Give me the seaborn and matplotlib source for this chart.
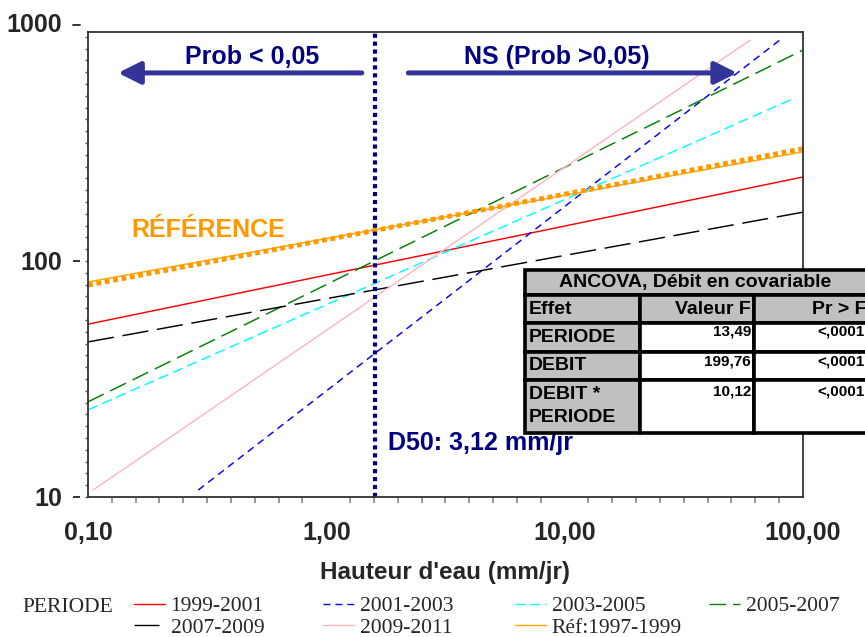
import numpy as np
import pandas as pd
import matplotlib
matplotlib.use("Agg")
import matplotlib.pyplot as plt
import seaborn as sns
from matplotlib.lines import Line2D
from matplotlib.patches import Rectangle
from matplotlib.ticker import FixedLocator, NullFormatter, FixedFormatter

# ---------------- data ----------------
periods = ["1999-2001", "2001-2003", "2003-2005", "2005-2007",
           "2007-2009", "2009-2011", "Réf:1997-1999"]
x_start = [0.10, 0.29, 0.10, 0.10, 0.10, 0.105, 0.10]
x_end = [100.0, 82.0, 92.5, 100.0, 100.0, 60.0, 100.0]
y_start = [54.0, 10.7, 23.4, 25.3, 45.4, 10.7, 81.5]
y_end = [227.0, 881.0, 491.0, 783.0, 161.0, 863.0, 290.0]

ref_x = [0.10, 100.0]
ref_y = [79.0, 299.0]
d50_x = 1.6

x_ticks = [0.1, 1, 10, 100]
x_ticklabels = ["0,10", "1,00", "10,00", "100,00"]
y_ticks = [10, 100]
y_ticklabels = ["10", "100"]
y_top_label = "1000"

table_title = "ANCOVA, Débit en covariable"
table_cols = ["Effet", "Valeur F", "Pr > F"]
table_effects = ["PERIODE", "DEBIT", "DEBIT *\nPERIODE"]
table_f = ["13,49", "199,76", "10,12"]
table_p = ["<,0001", "<,0001", "<,0001"]

# ---------------- styles ----------------
colors = {"1999-2001": "#FF0000", "2001-2003": "#0000FF", "2003-2005": "#00FFFF",
          "2005-2007": "#008000", "2007-2009": "#000000", "2009-2011": "#FFB6C1",
          "Réf:1997-1999": "#FFA500"}
dash_map = {"1999-2001": "", "2001-2003": (5, 3.6), "2003-2005": (7, 3.6),
            "2005-2007": (12, 5), "2007-2009": (18, 6), "2009-2011": "",
            "Réf:1997-1999": ""}
NAVY = "#000080"
ARROW = "#333399"
ORANGE = "#FF9900"

sns.set_style("white")
plt.rcParams["font.family"] = ["Liberation Sans", "DejaVu Sans"]

W, H = 865, 637
fig = plt.figure(figsize=(W / 100, H / 100), dpi=100)
L, R, T, B = 88, 803, 32, 497
ax = fig.add_axes([L / W, 1 - B / H, (R - L) / W, (B - T) / H])

rows = []
for p, xs, xe, ys, ye in zip(periods, x_start, x_end, y_start, y_end):
    rows.append({"period": p, "x": xs, "y": ys})
    rows.append({"period": p, "x": xe, "y": ye})
df = pd.DataFrame(rows)

sns.lineplot(data=df, x="x", y="y", hue="period", style="period",
             hue_order=periods, style_order=periods, palette=colors,
             dashes=dash_map, legend=False, estimator=None, sort=False,
             linewidth=1.05, ax=ax)

ref_df = pd.DataFrame({"x": ref_x, "y": ref_y})
sns.lineplot(data=ref_df, x="x", y="y", color=ORANGE, linewidth=3.5,
             dashes=False, ax=ax, estimator=None, sort=False)
ax.lines[-1].set_dashes((1, 0.75))
ax.lines[-1].set_dash_capstyle("butt")

ax.set_xscale("log")
ax.set_yscale("log")
ax.set_xlim(0.1, 100)
ax.set_ylim(10, 10 ** (1 + (B - T) / 236))

ax.axvline(d50_x, color=NAVY, linewidth=3.0, linestyle=(0, (1, 0.9)),
           ymin=0, ymax=1.005, clip_on=False)

for s in ax.spines.values():
    s.set_color("#333333")
    s.set_linewidth(1.3)

# x axis ticks
ax.xaxis.set_major_locator(FixedLocator(x_ticks))
ax.xaxis.set_major_formatter(FixedFormatter(x_ticklabels))
minor_x = [10 ** (k / 10) for k in range(-10, 21) if k % 10 != 0]
ax.xaxis.set_minor_locator(FixedLocator(minor_x))
ax.xaxis.set_minor_formatter(NullFormatter())
ax.tick_params(axis="x", which="major", direction="out", length=7, width=1.3,
               color="#222222", pad=10, labelsize=18)
ax.tick_params(axis="x", which="minor", direction="out", length=4, width=1.2,
               color="#888888", bottom=True)
for lab in ax.get_xticklabels():
    lab.set_fontweight("bold")

# y axis: only minor ticks on the spine, labels on a detached axis
ax.yaxis.set_major_locator(FixedLocator([]))
minor_y = [10 ** (1 + k / 20) for k in range(0, 40)]
ax.yaxis.set_minor_locator(FixedLocator(minor_y))
ax.yaxis.set_minor_formatter(NullFormatter())
ax.tick_params(axis="y", which="minor", direction="out", length=2.5, width=1.0,
               color="#555555", left=True)

sec = ax.secondary_yaxis(-0.011)
sec.set_yticks(y_ticks)
sec.set_yticklabels(y_ticklabels)
sec.yaxis.set_minor_locator(FixedLocator([]))
sec.spines["left"].set_visible(False)
sec.tick_params(axis="y", which="major", direction="out", length=5, width=1.3,
                color="#222222", pad=8, labelsize=18)
for lab in sec.get_yticklabels():
    lab.set_fontweight("bold")
ytop = (B - 25) / (B - T)
ax.add_line(Line2D([-0.021, -0.011], [ytop, ytop], transform=ax.transAxes,
                   color="#222222", linewidth=1.3, clip_on=False))
ax.text(-0.036, ytop, y_top_label, transform=ax.transAxes, ha="right",
        va="center", fontsize=18, fontweight="bold", clip_on=False)

ax.set_xlabel("Hauteur d'eau (mm/jr)", fontsize=17.5, fontweight="bold", labelpad=12)
ax.set_ylabel("")

# annotations
ax.text(0.229, 0.946, "Prob < 0,05", transform=ax.transAxes, ha="center",
        va="center", fontsize=18, fontweight="bold", color=NAVY)
ax.text(0.656, 0.946, "NS (Prob >0,05)", transform=ax.transAxes, ha="center",
        va="center", fontsize=18, fontweight="bold", color=NAVY)
arrow_kw = dict(arrowstyle="-|>,head_length=0.9,head_width=0.45", color=ARROW,
                lw=3.6, shrinkA=0, shrinkB=0, mutation_scale=15)
ax.annotate("", xy=(0.042, 0.912), xytext=(0.383, 0.912), xycoords="axes fraction",
            textcoords="axes fraction", arrowprops=arrow_kw)
ax.annotate("", xy=(0.908, 0.912), xytext=(0.448, 0.912), xycoords="axes fraction",
            textcoords="axes fraction", arrowprops=arrow_kw)
ax.text(0.060, 0.574, "RÉFÉRENCE", transform=ax.transAxes, ha="left",
        va="center", fontsize=18, fontweight="bold", color=ORANGE)
ax.text(0.420, 0.116, "D50: 3,12 mm/jr", transform=ax.transAxes, ha="left",
        va="center", fontsize=18, fontweight="bold", color=NAVY)

# ---------------- table (figure pixels) ----------------
def fx(px):
    return px / W


def fy(py):
    return 1 - py / H


col_x = [525, 640, 754, 868]
row_y = [270, 295, 323, 352, 380, 433]
GREY = "#C0C0C0"
BLW = 2.6


def cell(x0, y0, x1, y1, face):
    fig.add_artist(Rectangle((fx(x0), fy(y1)), fx(x1) - fx(x0), fy(y0) - fy(y1),
                             transform=fig.transFigure, facecolor=face,
                             edgecolor="black", linewidth=BLW, zorder=5))


cell(col_x[0], row_y[0], col_x[3], row_y[1], GREY)
for j in range(3):
    cell(col_x[j], row_y[1], col_x[j + 1], row_y[2], GREY)
for i in range(3):
    cell(col_x[0], row_y[i + 2], col_x[1], row_y[i + 3], GREY)
    cell(col_x[1], row_y[i + 2], col_x[2], row_y[i + 3], "white")
    cell(col_x[2], row_y[i + 2], col_x[3], row_y[i + 3], "white")

tkw = dict(transform=fig.transFigure, fontweight="bold", zorder=6, color="black")
fig.text(fx(695), fy((row_y[0] + row_y[1]) / 2), table_title, ha="center",
         va="center", fontsize=14, **tkw)
hy = fy(309)
fig.text(fx(529), hy, table_cols[0], ha="left", va="center", fontsize=14, **tkw)
fig.text(fx(751), hy, table_cols[1], ha="right", va="center", fontsize=14, **tkw)
fig.text(fx(866), hy, table_cols[2], ha="right", va="center", fontsize=14, **tkw)
label_y = [337, 366, 406]
num_y = [332, 362, 392]
for i in range(3):
    fig.text(fx(529), fy(label_y[i]), table_effects[i], ha="left", va="center",
             fontsize=14, linespacing=1.45, **tkw)
    fig.text(fx(751), fy(num_y[i]), table_f[i], ha="right", va="center",
             fontsize=11, **tkw)
    fig.text(fx(865), fy(num_y[i]), table_p[i], ha="right", va="center",
             fontsize=11, **tkw)

# ---------------- legend (one block per column) ----------------
legend_cols = [["1999-2001", "2007-2009"], ["2001-2003", "2009-2011"],
               ["2003-2005", "Réf:1997-1999"], ["2005-2007"]]
legend_x = [134, 323, 515, 709]
lprop = {"family": ["Liberation Serif", "DejaVu Serif"], "size": 15.5}
for names, lx in zip(legend_cols, legend_x):
    handles = []
    for p in names:
        h = Line2D([], [], color=colors[p], linewidth=1.0)
        if dash_map[p]:
            h.set_dashes(dash_map[p])
        handles.append(h)
    fig.legend(handles, names, loc="upper left",
               bbox_to_anchor=(fx(lx), fy(596)), ncol=1, frameon=False,
               prop=lprop, handlelength=1.45, handletextpad=0.25,
               labelspacing=0.08, borderpad=0, borderaxespad=0)
fig.text(fx(22), fy(607), "PERIODE", ha="left", va="center", fontsize=15.5,
         family=["Liberation Serif", "DejaVu Serif"])

fig.savefig("out.png", dpi=100)
